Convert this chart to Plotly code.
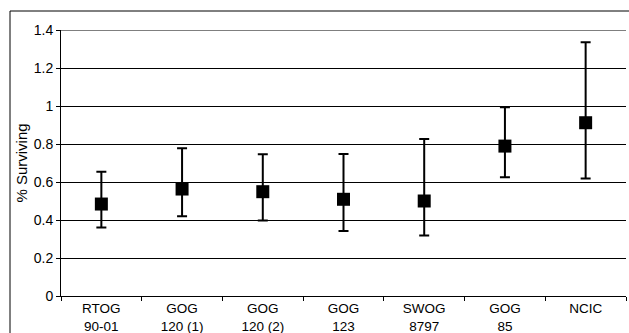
import plotly.graph_objects as go

categories = ["RTOG<br>90-01", "GOG<br>120 (1)", "GOG<br>120 (2)", "GOG<br>123",
              "SWOG<br>8797", "GOG<br>85", "NCIC"]
surviving = [0.484, 0.563, 0.549, 0.509, 0.500, 0.789, 0.912]
ci_upper = [0.654, 0.777, 0.746, 0.747, 0.826, 0.993, 1.335]
ci_lower = [0.360, 0.420, 0.398, 0.342, 0.319, 0.625, 0.619]
y_ticks = [0, 0.2, 0.4, 0.6, 0.8, 1, 1.2, 1.4]
y_tick_labels = ["0", "0.2", "0.4", "0.6", "0.8", "1", "1.2", "1.4"]

err_plus = [u - s for u, s in zip(ci_upper, surviving)]
err_minus = [s - l for s, l in zip(surviving, ci_lower)]

W, H = 629, 333
ML, MR, MT, MB = 61, 3, 30, 37
PW, PH = W - ML - MR, H - MT - MB

def px(x):
    return (x - ML) / PW

def py(y):
    return (H - MB - y) / PH

fam = "Liberation Sans, Arial, sans-serif"
xfont = dict(family=fam, size=13.5, color="black")
yfont = dict(family=fam, size=14, color="black")
tfont = dict(family=fam, size=15, color="black")

fig = go.Figure()
fig.add_trace(go.Scatter(
    x=categories, y=surviving, mode="markers",
    marker=dict(symbol="square", size=13, color="black"),
    error_y=dict(type="data", symmetric=False, array=err_plus, arrayminus=err_minus,
                 color="black", thickness=2, width=5),
    showlegend=False,
))

fig.update_layout(
    width=W, height=H,
    margin=dict(l=ML, r=MR, t=MT, b=MB, pad=0),
    paper_bgcolor="white", plot_bgcolor="white",
    font=yfont,
    xaxis=dict(type="category", showline=True, linecolor="black", linewidth=1,
               ticks="outside", tickson="boundaries", ticklen=4, tickcolor="black",
               showgrid=False, tickfont=xfont, range=[-0.5, 6.5], automargin=False),
    yaxis=dict(range=[0, 1.4], tickvals=y_ticks, ticktext=y_tick_labels,
               showline=True, linecolor="black", linewidth=1,
               ticks="outside", ticklen=4, tickcolor="black",
               showgrid=True, gridcolor="black", gridwidth=1, zeroline=False,
               tickfont=yfont, automargin=False,
               title=dict(text="% Surviving", font=tfont, standoff=2)),
    shapes=[
        dict(type="line", xref="paper", yref="y", x0=0, x1=1, y0=y_ticks[-1], y1=y_ticks[-1],
             line=dict(color="black", width=1), layer="below"),
        dict(type="line", xref="paper", yref="paper", x0=px(10), x1=px(629), y0=py(11), y1=py(11),
             line=dict(color="black", width=1)),
        dict(type="line", xref="paper", yref="paper", x0=px(10), x1=px(10), y0=py(11), y1=py(333),
             line=dict(color="black", width=1)),
    ],
)

fig.write_html("out.html", config={"displayModeBar": False},
               post_script="document.body.style.margin='0';document.body.style.overflow='hidden';")
